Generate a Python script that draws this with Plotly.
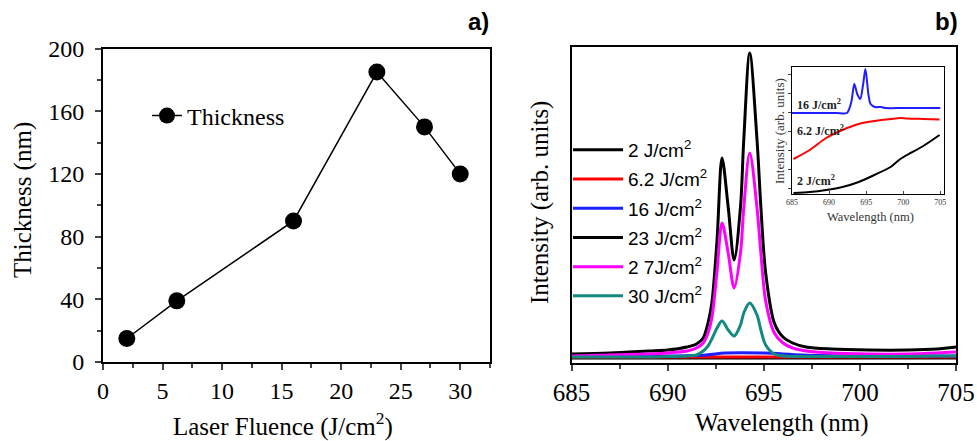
import plotly.graph_objects as go

W, H = 977, 441

# ---------------- Panel a data ----------------
fluence = [2, 6.2, 16, 23, 27, 30]
thickness = [15, 39, 90, 185, 150, 120]

# ---------------- Panel b data (main spectra) ----------------
wl_peak = [685, 687, 689, 690, 691, 691.5, 691.85, 692.1, 692.3, 692.57, 692.83,
           693.15, 693.46, 693.79, 693.96, 694.27, 694.65, 694.85, 695.1, 695.55,
           696, 696.5, 697.2, 698.5, 700.5, 702.5, 704, 705]
int_23 = [9, 10, 12, 13, 16, 19, 25, 40, 60, 123, 205,
          156, 103, 156, 223, 310, 223, 156, 90, 40,
          26, 20, 16, 14, 13, 13, 14, 16]
int_27 = [7, 8, 9, 10, 12, 15, 20, 30, 45, 92, 140,
          110, 75, 110, 155, 210, 155, 110, 62, 30,
          20, 15, 12, 10, 9, 9, 10, 11]
int_30 = [6, 6, 6, 6.5, 7, 8, 12, 17, 24, 35, 42,
          33, 27, 38, 50, 60, 48, 33, 18, 9,
          7, 6.5, 6.5, 6.5, 6.5, 6.5, 7, 7]
wl_flat = [685, 690, 692, 693, 695, 697, 700, 705]
int_2 = [5, 5, 5, 5, 5, 5, 5, 5]
int_62 = [6, 6, 6, 6, 6, 6, 6, 6]
int_16 = [7, 7, 8, 10, 10, 8, 7, 7]

labels_b = ["2 J/cm<sup>2</sup>", "6.2 J/cm<sup>2</sup>", "16 J/cm<sup>2</sup>",
            "23 J/cm<sup>2</sup>", "2 7J/cm<sup>2</sup>", "30 J/cm<sup>2</sup>"]
colors_b = ["#000000", "#ff0000", "#1f1fff", "#000000", "#ff00ff", "#138a80"]

# ---------------- Inset data ----------------
wl_in_16 = [685, 688, 691, 692.4, 693.0, 693.4, 693.8, 694.2, 694.6, 694.9, 695.3,
            695.6, 696.2, 697.0, 697.6, 700, 703, 705]
in_16 = [81, 81, 81, 81, 92, 110, 100, 95, 110, 125, 100,
         90, 87, 87, 86, 86, 86, 86]
wl_in = [685.2, 687.4, 689.6, 691.8, 694.0, 696.1, 698.3, 699.6, 700.5, 702.7, 704.9]
in_62 = [35, 44, 56, 64, 70, 73, 75, 76, 75.5, 75, 74.5]
in_2 = [1, 2, 4, 7, 12, 19, 27, 35, 39, 48, 59]

SERIF = "Liberation Serif, Times New Roman, serif"
SANS = "Liberation Sans, Arial, sans-serif"

fig = go.Figure()

# Panel a
fig.add_trace(go.Scatter(
    x=fluence, y=thickness, mode="lines+markers", name="Thickness",
    line=dict(color="black", width=1.5),
    marker=dict(color="black", size=17, symbol="circle"),
    xaxis="x", yaxis="y", legend="legend"))

# Panel b main
series = [(wl_flat, int_2), (wl_flat, int_62), (wl_flat, int_16),
          (wl_peak, int_23), (wl_peak, int_27), (wl_peak, int_30)]
for i, ((xs, ys), lab, col) in enumerate(zip(series, labels_b, colors_b)):
    fig.add_trace(go.Scatter(
        x=xs, y=ys, mode="lines", name=lab,
        line=dict(color=col, width=3, shape="spline", smoothing=0.9),
        xaxis="x2", yaxis="y2", legend="legend2", legendgroup=f"g{i}"))

# Inset
for xs, ys, col in [(wl_in_16, in_16, "#1f1fff"), (wl_in, in_62, "#ff0000"), (wl_in, in_2, "#000000")]:
    fig.add_trace(go.Scatter(
        x=xs, y=ys, mode="lines", showlegend=False,
        line=dict(color=col, width=2, shape="spline", smoothing=0.8),
        xaxis="x3", yaxis="y3"))

def px_x(p):
    return p / W

def px_y(p):
    return 1 - p / H

frame = dict(showline=True, mirror=True, linecolor="black", linewidth=2,
             showgrid=False, zeroline=False, automargin=False)

fig.update_layout(
    width=W, height=H, margin=dict(l=0, r=0, t=0, b=0, autoexpand=False),
    paper_bgcolor="white", plot_bgcolor="white",
    font=dict(family=SERIF, color="black"),
    xaxis=dict(domain=[px_x(103), px_x(490)], range=[0, 32.5], **frame,
               tickmode="linear", tick0=0, dtick=5, ticks="outside", ticklen=6, tickwidth=2,
               minor=dict(dtick=2.5, ticks="outside", ticklen=4, tickwidth=1.5),
               tickfont=dict(size=24, family=SERIF), anchor="y"),
    yaxis=dict(domain=[px_y(362), px_y(48.5)], range=[0, 200], **frame,
               tickmode="linear", tick0=0, dtick=40, ticks="outside", ticklen=6, tickwidth=2,
               minor=dict(dtick=20, ticks="outside", ticklen=4, tickwidth=1.5),
               ticksuffix="\u00a0",
               tickfont=dict(size=24, family=SERIF), anchor="x"),
    xaxis2=dict(domain=[px_x(571.5), px_x(956)], range=[685, 705], **frame,
                tickmode="linear", tick0=685, dtick=5, ticks="outside", ticklen=6, tickwidth=2,
                minor=dict(dtick=2.5, ticks="outside", ticklen=4, tickwidth=1.5),
                tickfont=dict(size=25, family=SERIF), anchor="y2"),
    yaxis2=dict(domain=[px_y(363), px_y(47)], range=[0, 316], **frame,
                showticklabels=False, ticks="", anchor="x2"),
    xaxis3=dict(domain=[px_x(792), px_x(944)], range=[685, 705.5], showline=True, mirror=True,
                linecolor="black", linewidth=1.2, showgrid=False, zeroline=False, automargin=False,
                tickmode="linear", tick0=685, dtick=5, ticks="inside", ticklen=3,
                tickfont=dict(size=8, family=SERIF, color="#333"), anchor="y3"),
    yaxis3=dict(domain=[px_y(194), px_y(67)], range=[0, 127], showline=True, mirror=True,
                linecolor="black", linewidth=1.2, showgrid=False, zeroline=False, automargin=False,
                tickmode="linear", tick0=6, dtick=19, ticks="outside", ticklen=3,
                showticklabels=False, anchor="x3"),
    legend=dict(x=px_x(147), y=px_y(116), xanchor="left", yanchor="middle",
                bgcolor="rgba(0,0,0,0)", font=dict(size=24, family=SERIF),
                itemwidth=30, tracegroupgap=0),
    legend2=dict(x=px_x(568), y=px_y(131), xanchor="left", yanchor="top",
                 bgcolor="rgba(0,0,0,0)", font=dict(size=19, family=SANS),
                 itemwidth=50, tracegroupgap=1.5, traceorder="grouped"),
)

ann = [
    dict(text="Thickness (nm)", x=px_x(23), y=px_y(200), textangle=-90,
         font=dict(size=25, family=SERIF)),
    dict(text="Laser Fluence (J/cm<sup>2</sup>)", x=px_x(283), y=px_y(424),
         font=dict(size=25, family=SERIF)),
    dict(text="Wavelength (nm)", x=px_x(782), y=px_y(423),
         font=dict(size=25, family=SERIF)),
    dict(text="Intensity (arb. units)", x=px_x(540), y=px_y(203), textangle=-90,
         font=dict(size=25, family=SERIF)),
    dict(text="<b>a)</b>", x=px_x(478), y=px_y(22), font=dict(size=24, family=SANS)),
    dict(text="<b>b)</b>", x=px_x(946), y=px_y(22), font=dict(size=24, family=SANS)),
    dict(text="Wavelength (nm)", x=px_x(870), y=px_y(217), font=dict(size=12.5, family=SERIF, color="#333")),
    dict(text="Intensity (arb. units)", x=px_x(780), y=px_y(131), textangle=-90,
         font=dict(size=13, family=SERIF, color="#333")),
]
for a in ann:
    a.update(xref="paper", yref="paper", showarrow=False, xanchor="center", yanchor="middle")
    fig.add_annotation(**a)

for txt, yv in [("<b>16 J/cm<sup>2</sup></b>", 89), ("<b>6.2 J/cm<sup>2</sup></b>", 64), ("<b>2 J/cm<sup>2</sup></b>", 14)]:
    fig.add_annotation(text=txt, x=685.4, y=yv, xref="x3", yref="y3", showarrow=False,
                       xanchor="left", yanchor="middle", font=dict(size=12, family=SERIF, color="#222"))

fig.write_html("out.html")
